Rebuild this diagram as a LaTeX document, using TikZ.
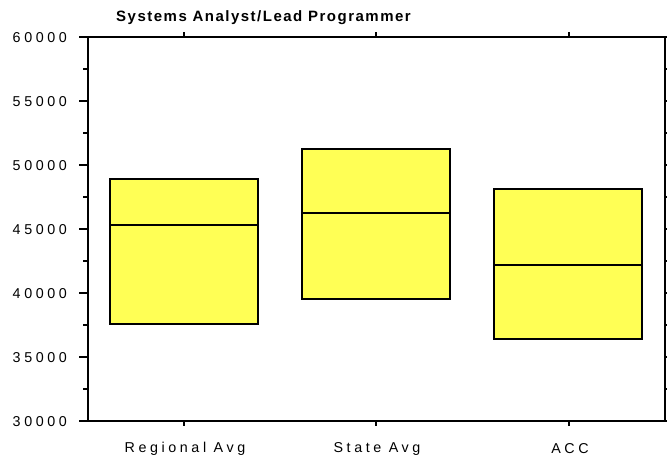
\documentclass[tikz,border=0pt]{standalone}
\usepackage{fontspec}
\setmainfont{Liberation Sans}
\newfontfamily\labfont[LetterSpace=25]{Liberation Sans}
\newfontfamily\titfont[LetterSpace=10]{Liberation Sans}
\definecolor{boxyellow}{RGB}{255,255,85}
\begin{document}
\begin{tikzpicture}[x=1pt,y=-1pt,
  frame/.style={line width=2.2pt},
  tickline/.style={line width=1.6pt},
  boxstyle/.style={draw=black,line width=1.8pt,fill=boxyellow},
  medline/.style={line width=1.8pt},
  ylab/.style={anchor=east,inner sep=0pt,font=\labfont\fontsize{14.3}{16}\selectfont},
  xlab/.style={anchor=center,inner sep=0pt,font=\labfont\fontsize{14.3}{16}\selectfont},
  titlelab/.style={anchor=base west,inner sep=0pt,font=\titfont\bfseries\fontsize{15}{17}\selectfont}]
\useasboundingbox (0,0) rectangle (667,464);
% title
\node[titlelab] (title) at (116,21) {Systems Analyst/Lead Programmer};
% frame
\draw[frame] (88,37) rectangle (665,421);
% left and right ticks
\foreach \i in {0,...,12}{
  \pgfmathsetmacro{\yy}{37+\i*32}
  \pgfmathsetmacro{\xs}{mod(\i,2)==0 ? 79 : 83}
  \draw[tickline] (\xs,\yy) -- (88,\yy);
  \draw[tickline] (665,\yy) -- (669,\yy);
}
% top and bottom ticks
\foreach \xx in {184,376,569}{
  \draw[tickline] (\xx,37) -- (\xx,32);
  \draw[tickline] (\xx,421) -- (\xx,426);
}
% y labels
\node[ylab] (l60) at (67,38) {60000};
\node[ylab] (l55) at (67,102) {55000};
\node[ylab] (l50) at (67,166) {50000};
\node[ylab] (l45) at (67,230) {45000};
\node[ylab] (l40) at (67,294) {40000};
\node[ylab] (l35) at (67,358) {35000};
\node[ylab] (l30) at (67,422) {30000};
% x labels
\node[xlab] (c1) at (185,449) {Regional Avg};
\node[xlab] (c2) at (377,449) {State Avg};
\node[xlab] (c3) at (570,449) {ACC};
% boxes
\draw[boxstyle] (110,179) rectangle (258,324.3);
\draw[medline] (110,225) -- (258,225);
\draw[boxstyle] (302,149) rectangle (450,298.7);
\draw[medline] (302,212.7) -- (450,212.7);
\draw[boxstyle] (494,189) rectangle (642,338.7);
\draw[medline] (494,265) -- (642,265);
\end{tikzpicture}
\end{document}
